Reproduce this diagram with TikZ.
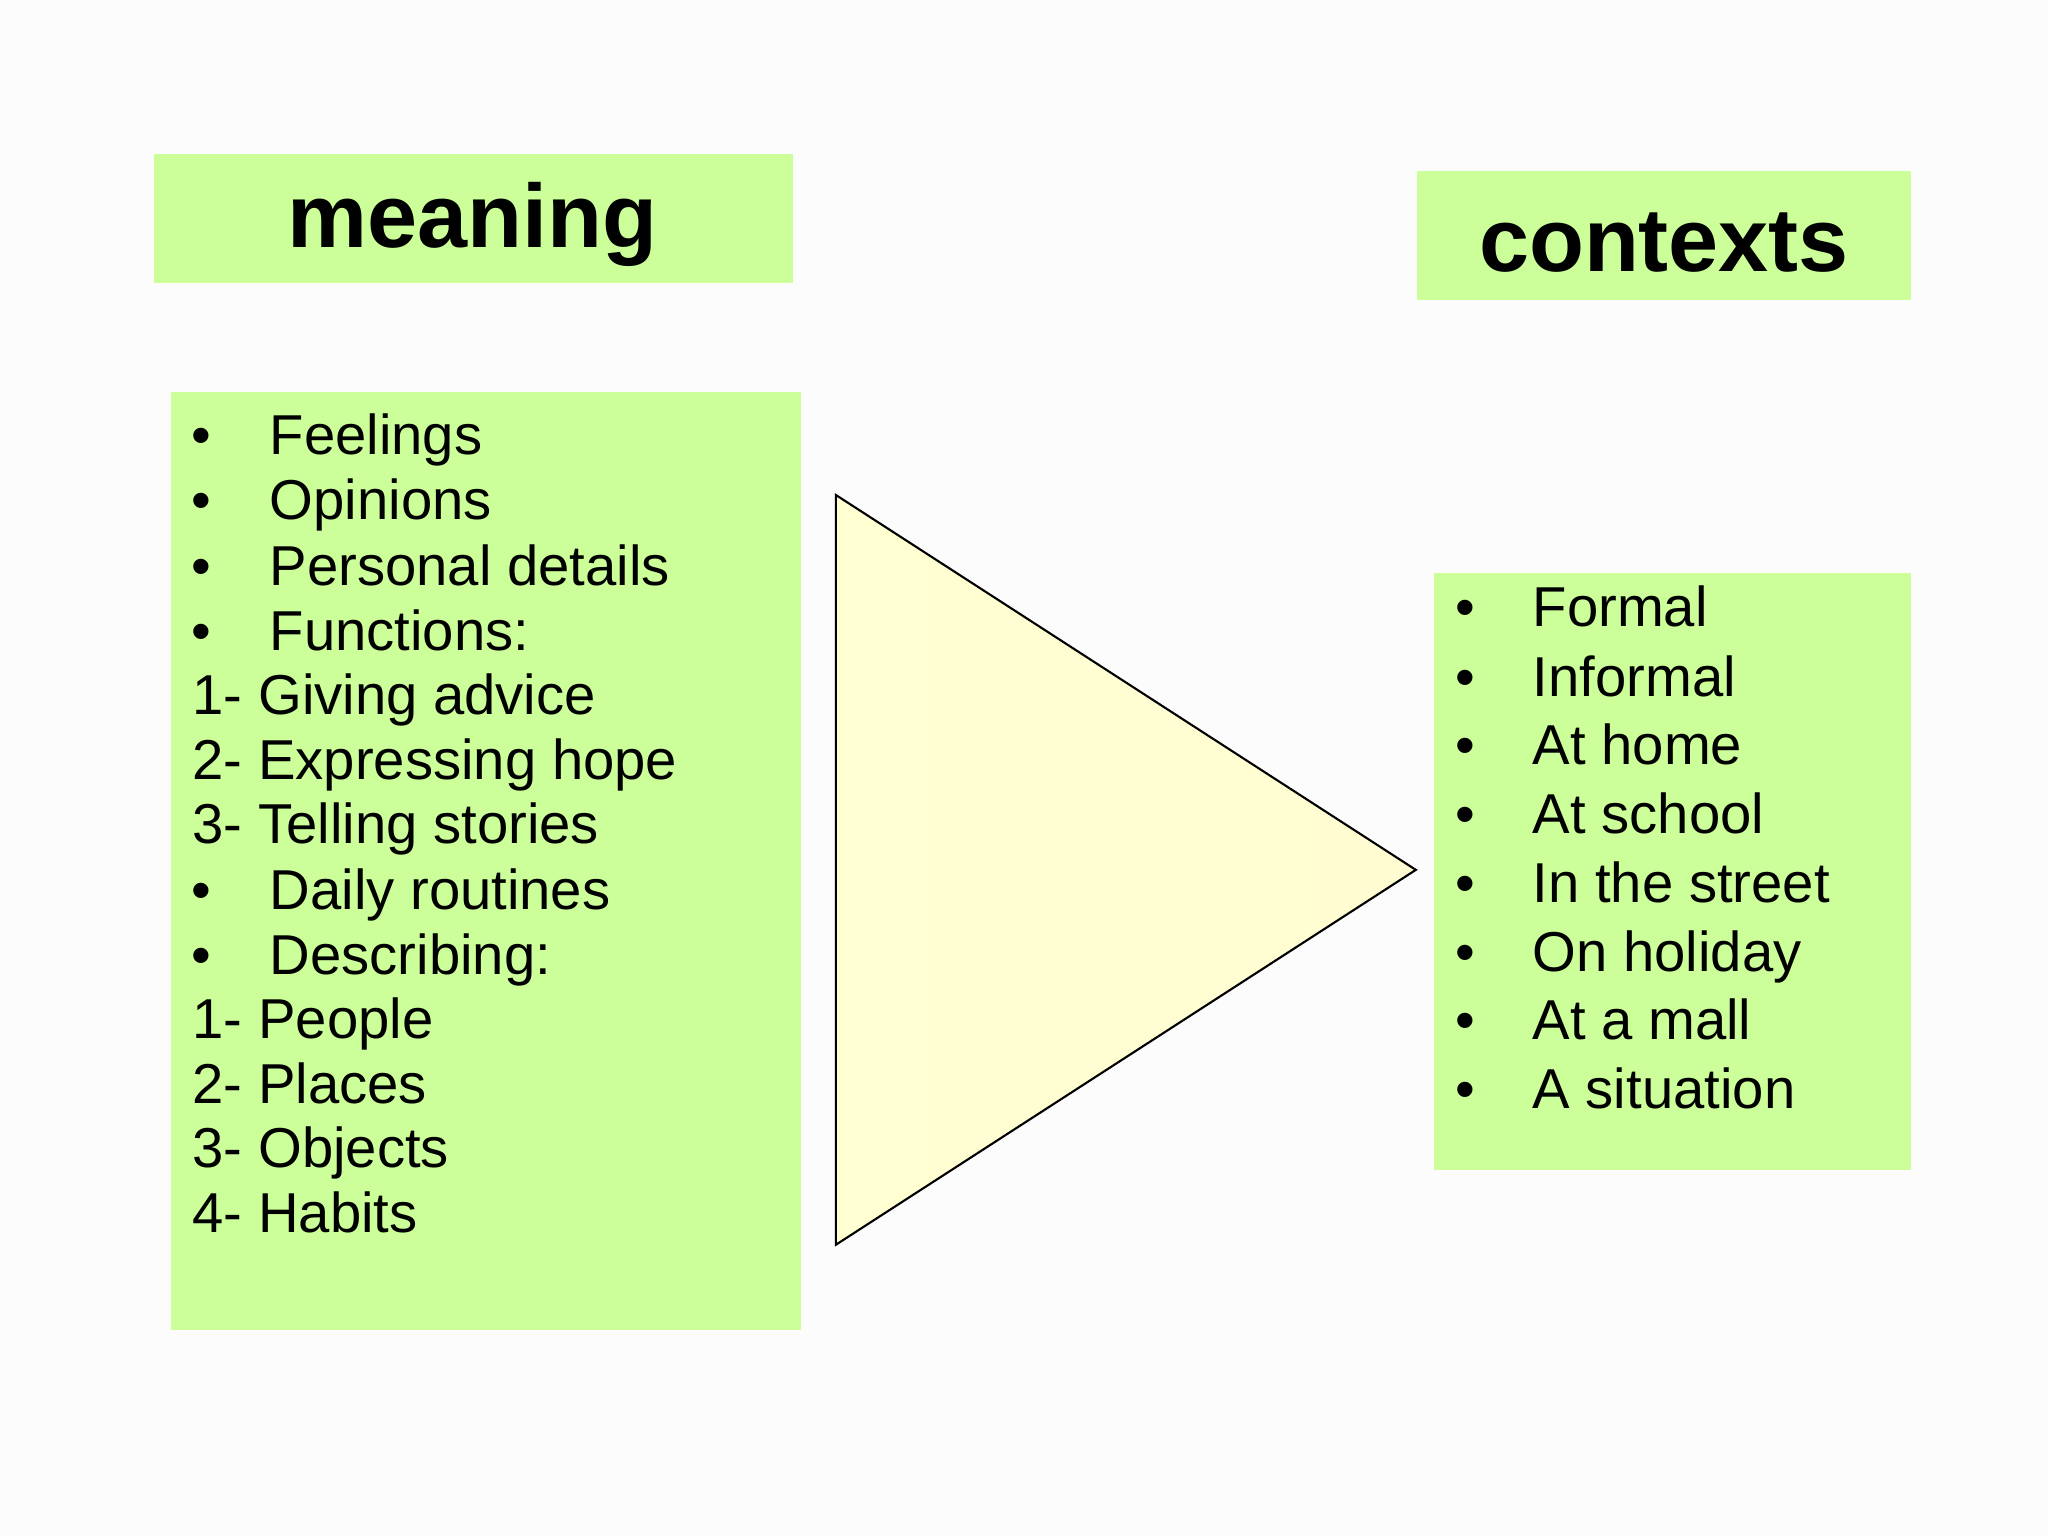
\documentclass[tikz,border=0pt]{standalone}
\usepackage{fontspec}
\setmainfont{Liberation Sans}
\begin{document}
\begin{tikzpicture}[x=0.013061cm,y=-0.013061cm,
  box/.style={fill=boxgreen,draw=none},
  item/.style={anchor=base west,inner sep=0pt,font=\fontsize{16}{19}\selectfont},
  title/.style={font=\fontsize{25.6}{30}\selectfont\bfseries,inner sep=0pt}]
\definecolor{boxgreen}{HTML}{CCFF99}
\definecolor{bg}{HTML}{FCFCFC}
\definecolor{triL}{HTML}{FFFFD2}
\definecolor{triR}{HTML}{FFFCD2}
\fill[bg] (0,0) rectangle (1568,1176);
\useasboundingbox (0,0) rectangle (1568,1176);
\fill[box] (118,118) rectangle (607,217);
\node[title] (meaning) at (362,172) {meaning};
\fill[box] (1085,131) rectangle (1463,230);
\node[title] (contexts) at (1274,186) {contexts};
\fill[box] (131,300) rectangle (613,1018);
\fill[box] (1098,439) rectangle (1463,896);
\shade[left color=triL,right color=triR,draw=black,line width=0.6pt] (640,379) -- (1084,666) -- (640,953) -- cycle;
\foreach \t/\y in {Feelings/348,Opinions/398,Personal details/448,Functions:/498,Daily routines/696,Describing:/746}{
  \node[item] at (146,\y) {•};
  \node[item] at (206,\y) {\t};}
\foreach \t/\y in {1- Giving advice/547,2- Expressing hope/597,3- Telling stories/646,1- People/795,2- Places/845,3- Objects/894,4- Habits/944}{
  \node[item] at (147,\y) {\t};}
\foreach \t/\y in {Formal/480,Informal/533,At home/585,At school/638,In the street/691,On holiday/744,At a mall/796,A situation/849}{
  \node[item] at (1114,\y) {•};
  \node[item] at (1173,\y) {\t};}
\end{tikzpicture}
\end{document}
